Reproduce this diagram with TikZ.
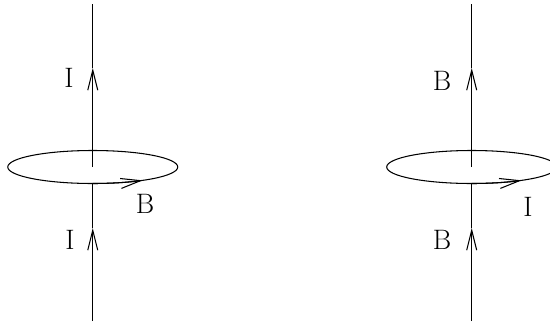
\documentclass[tikz,border=0pt]{standalone}
\usetikzlibrary{arrows.meta}
\tikzset{
  wire/.style={line width=0.6pt},
  flow/.style={wire, -{Straight Barb[length=0.4cm,width=0.2cm]}},
  lbl/.style={font=\fontsize{16}{19}\selectfont, inner sep=0pt}
}
\begin{document}
\begin{tikzpicture}
    \useasboundingbox (0,0) rectangle (11,6.54);
    \clip (0,0) rectangle (11,6.54);
    % left: current along the wire, field round it
    \coordinate (lc) at (1.855,3.2);
    \coordinate (ltop) at (1.855,6.46);
    \coordinate (lbot) at (1.855,0.12);
    \coordinate (lup) at (1.855,5.18);
    \coordinate (ldown) at (1.855,1.98);
    \draw[wire] (lc) ellipse (1.7 and 0.33);
    \draw[flow] (lc) -- (lup);
    \draw[wire] (lup) -- (ltop);
    \draw[flow] (lbot) -- (ldown);
    \draw[wire] (ldown) -- ([yshift=-0.33cm]lc);
    \draw[flow] ([yshift=-0.33cm]lc) arc[start angle=-90, end angle=-54, x radius=1.7, y radius=0.33];
    \node[lbl] (li1) at (1.38,4.98) {I};
    \node[lbl] (li2) at (1.4,1.74) {I};
    \node[lbl] (lb) at (2.9,2.46) {B};
    % right: field along the axis, current round it
    \coordinate (rc) at (9.434,3.2);
    \coordinate (rtop) at (9.434,6.46);
    \coordinate (rbot) at (9.434,0.12);
    \coordinate (rup) at (9.434,5.18);
    \coordinate (rdown) at (9.434,1.98);
    \draw[wire] (rc) ellipse (1.7 and 0.33);
    \draw[flow] (rc) -- (rup);
    \draw[wire] (rup) -- (rtop);
    \draw[flow] (rbot) -- (rdown);
    \draw[wire] (rdown) -- ([yshift=-0.33cm]rc);
    \draw[flow] ([yshift=-0.33cm]rc) arc[start angle=-90, end angle=-54, x radius=1.7, y radius=0.33];
    \node[lbl] (rb1) at (8.84,4.92) {B};
    \node[lbl] (rb2) at (8.84,1.74) {B};
    \node[lbl] (ri) at (10.56,2.4) {I};
\end{tikzpicture}
\end{document}
